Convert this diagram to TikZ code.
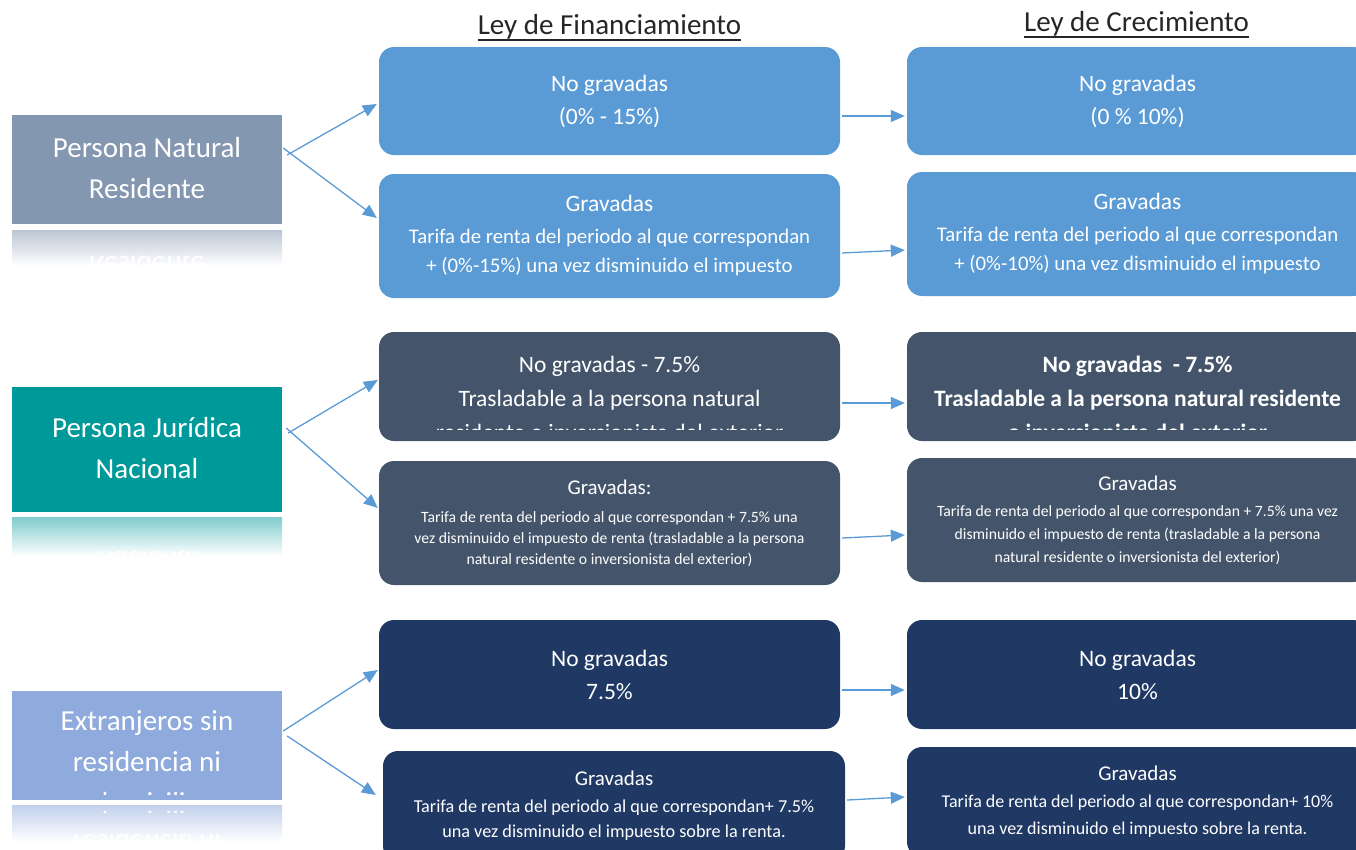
\documentclass[tikz,border=0pt]{standalone}
\usepackage{fontspec}
\setmainfont{Carlito}
\usetikzlibrary{arrows.meta}
\definecolor{cPNR}{HTML}{8497B0}
\definecolor{cPJN}{HTML}{009999}
\definecolor{cEXT}{HTML}{8FAADC}
\definecolor{cRa}{HTML}{5B9BD5}
\definecolor{cRb}{HTML}{44546A}
\definecolor{cRc}{HTML}{203864}
\definecolor{cArr}{HTML}{5B9BD5}
\definecolor{cHead}{HTML}{262626}
\begin{document}
\begin{tikzpicture}[x=1pt,y=-1pt,
  leftbox/.style={fill=#1, draw=none, minimum width=270, inner sep=0pt},
  lefttext/.style={text=white, align=center, inner sep=0pt, font=\fontsize{29}{41}\selectfont},
  rbox/.style={fill=#1, draw=none, rounded corners=15pt, minimum width=461, inner sep=0pt, text=white, align=center},
  bigtxt/.style={font=\fontsize{23.5}{33}\selectfont},
  conn/.style={draw=cArr, line width=1.3pt, -{Triangle[length=14pt,width=12pt]}},
  head/.style={text=cHead, inner sep=0pt, font=\fontsize{29}{34}\selectfont}]
\useasboundingbox (0,0) rectangle (1356,849);
\clip (0,0) rectangle (1356,849);

% headers
\node[head, anchor=base] (hd1) at (609.5,34) {Ley de Financiamiento};
\draw[cHead, line width=1.4pt] ([yshift=-6pt]hd1.base west) -- ([yshift=-6pt]hd1.base east);
\node[head, anchor=base] (hd2) at (1136.5,31) {Ley de Crecimiento};
\draw[cHead, line width=1.4pt] ([yshift=-6pt]hd2.base west) -- ([yshift=-6pt]hd2.base east);

% left boxes
\node[leftbox=cPNR, minimum height=109] (pnr) at (147,169.5) {};
\node[lefttext] (pnrT) at (147,168.5) {Persona Natural\\Residente};
\begin{scope}
  \clip (12,230) rectangle (282,266);
  \shade[top color=cPNR!55!white, bottom color=white] (12,230) rectangle (282,266);
  \begin{scope}[shift={(147,287)}]
    \node[lefttext, yscale=-1, transform shape, text=white] (pnrR) at (0,0) {Persona Natural\\Residente};
  \end{scope}
\end{scope}

\node[leftbox=cPJN, minimum height=125] (pjn) at (147,449.5) {};
\node[lefttext] (pjnT) at (147,448.5) {Persona Jurídica\\Nacional};
\begin{scope}
  \clip (12,517) rectangle (282,556);
  \shade[top color=cPJN!50!white, bottom color=white] (12,517) rectangle (282,556);
  \begin{scope}[shift={(147,582)}]
    \node[lefttext, yscale=-1, transform shape, text=white] (pjnR) at (0,0) {Persona Jurídica\\Nacional};
  \end{scope}
\end{scope}

\node[leftbox=cEXT, minimum height=109] (ext) at (147,745.5) {};
\begin{scope}
  \clip (12,691) rectangle (282,794);
  \node[lefttext] (extT) at (147,762) {Extranjeros sin\\residencia ni\\domicilio};
\end{scope}
\begin{scope}
  \clip (12,805) rectangle (282,842);
  \shade[top color=cEXT!55!white, bottom color=white] (12,805) rectangle (282,842);
  \clip (12,811) rectangle (282,842);
  \begin{scope}[shift={(147,844)}]
    \node[lefttext, yscale=-1, transform shape, text=white] (extR) at (0,0) {Extranjeros sin\\residencia ni\\domicilio};
  \end{scope}
\end{scope}

% row 1
\node[rbox=cRa, minimum height=108, bigtxt] (f1a) at (609.5,101) {No gravadas\\(0\% - 15\%)};
\node[rbox=cRa, minimum height=108, bigtxt] (g1a) at (1137.5,101) {No gravadas\\(0 \% 10\%)};
\node[rbox=cRa, minimum height=124, font=\fontsize{20.8}{29}\selectfont] (f1b) at (609.5,236)
  {{\fontsize{23.5}{29}\selectfont Gravadas}\\[3pt]Tarifa de renta del periodo al que correspondan\\+ (0\%-15\%) una vez disminuido el impuesto};
\node[rbox=cRa, minimum height=124, font=\fontsize{20.8}{29}\selectfont] (g1b) at (1137.5,234)
  {{\fontsize{23.5}{29}\selectfont Gravadas}\\[3pt]Tarifa de renta del periodo al que correspondan\\+ (0\%-10\%) una vez disminuido el impuesto};

% row 2
\node[rbox=cRb, minimum height=109] (f2a) at (609.5,386.5) {};
\begin{scope}
  \clip (379,332) rectangle (840,429);
  \node[text=white, align=center, inner sep=0pt, bigtxt, font=\fontsize{23.5}{34}\selectfont] (f2aT) at (609.5,398)
    {No gravadas - 7.5\%\\Trasladable a la persona natural\\residente o inversionista del exterior};
\end{scope}
\node[rbox=cRb, minimum height=109] (g2a) at (1137.5,386.5) {};
\begin{scope}
  \clip (907,332) rectangle (1356,429);
  \node[text=white, align=center, inner sep=0pt, font=\fontsize{23.5}{34}\bfseries\selectfont] (g2aT) at (1137.5,398)
    {No gravadas\ \ - 7.5\%\\Trasladable a la persona natural residente\\o inversionista del exterior};
\end{scope}
\node[rbox=cRb, minimum height=124, font=\fontsize{15.7}{21}\selectfont] (f2b) at (609.5,523)
  {{\fontsize{21}{21}\selectfont Gravadas:}\\[7pt]Tarifa de renta del periodo al que correspondan + 7.5\% una\\vez disminuido el impuesto de renta (trasladable a la persona\\natural residente o inversionista del exterior)};
\node[rbox=cRb, minimum height=124, font=\fontsize{15.7}{23}\selectfont] (g2b) at (1137.5,520)
  {{\fontsize{21}{23}\selectfont Gravadas}\\[3pt]Tarifa de renta del periodo al que correspondan + 7.5\% una vez\\disminuido el impuesto de renta (trasladable a la persona\\natural residente o inversionista del exterior)};

% row 3
\node[rbox=cRc, minimum height=109, bigtxt] (f3a) at (609.5,674.5) {No gravadas\\7.5\%};
\node[rbox=cRc, minimum height=109, bigtxt] (g3a) at (1137.5,674.5) {No gravadas\\10\%};
\node[rbox=cRc, minimum height=110, minimum width=462, font=\fontsize{18.2}{25}\selectfont] (f3b) at (614,806)
  {{\fontsize{21}{25}\selectfont Gravadas}\\[2pt]Tarifa de renta del periodo al que correspondan+ 7.5\%\\una vez disminuido el impuesto sobre la renta.};
\node[rbox=cRc, minimum height=110, font=\fontsize{18}{27}\selectfont] (g3b) at (1137.5,802)
  {{\fontsize{21}{27}\selectfont Gravadas}\\Tarifa de renta del periodo al que correspondan+ 10\%\\una vez disminuido el impuesto sobre la renta.};

% connectors from left boxes
\draw[conn] ([xshift=5pt,yshift=14.5pt]pnr.east) -- ([xshift=-2pt,yshift=-3pt]f1a.west);
\draw[conn] ([xshift=1pt,yshift=21.5pt]pnr.east) -- ([xshift=-2pt,yshift=18pt]f1b.west);
\draw[conn] ([xshift=6pt,yshift=16.5pt]pjn.east) -- ([xshift=-1pt,yshift=6.5pt]f2a.west);
\draw[conn] ([xshift=4pt,yshift=21.5pt]pjn.east) -- ([xshift=-1pt,yshift=15pt]f2b.west);
\draw[conn] ([xshift=1pt,yshift=14.5pt]ext.east) -- ([xshift=-1pt,yshift=4.5pt]f3a.west);
\draw[conn] ([xshift=5pt,yshift=9.5pt]ext.east) -- ([xshift=-7pt,yshift=11pt]f3b.west);

% horizontal connectors
\draw[conn] ([xshift=2pt,yshift=-15pt]f1a.east) -- ([xshift=-2pt,yshift=-15pt]g1a.west);
\draw[conn] ([xshift=2pt,yshift=-17pt]f1b.east) -- ([xshift=-2pt,yshift=-16pt]g1b.west);
\draw[conn] ([xshift=2pt,yshift=-16.5pt]f2a.east) -- ([xshift=-2pt,yshift=-16.5pt]g2a.west);
\draw[conn] ([xshift=2pt,yshift=-15pt]f2b.east) -- ([xshift=-2pt,yshift=-15pt]g2b.west);
\draw[conn] ([xshift=2pt,yshift=-15.5pt]f3a.east) -- ([xshift=-2pt,yshift=-15.5pt]g3a.west);
\draw[conn] ([xshift=2pt,yshift=6pt]f3b.east) -- ([xshift=-2pt,yshift=5pt]g3b.west);
\end{tikzpicture}
\end{document}
